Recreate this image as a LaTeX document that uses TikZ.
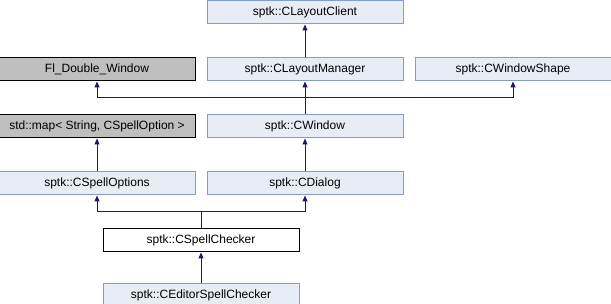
\documentclass[tikz,border=0pt]{standalone}
\usepackage{fontspec}
\setmainfont{Liberation Sans}
\usepackage{tikz}
\usetikzlibrary{positioning,arrows.meta,calc}
\usepackage{xcolor}
\definecolor{clsc}{RGB}{232,236,245}
\definecolor{clsb}{RGB}{132,156,204}
\definecolor{extc}{RGB}{191,191,191}
\definecolor{edgec}{RGB}{25,25,112}
\tikzset{
  box/.style={draw, line width=1pt, minimum width=196pt, minimum height=23pt, inner sep=0pt, font=\fontsize{12}{14}\selectfont},
  cls/.style={box, draw=clsb, fill=clsc},
  ext/.style={box, draw=black, fill=extc},
  cur/.style={box, draw=black, fill=white},
  inh/.style={-{Triangle[length=6pt,width=5pt]}, line width=1pt, edgec}
}

\begin{document}
\begin{tikzpicture}[x=1pt, y=1pt, node distance=33pt and 11pt]
  \useasboundingbox (0,0) rectangle (611,-304);

  % ---- layout classes ----
  \node[cls] (client) at (305,-12.5) {sptk::CLayoutClient};
  \node[cls, below=of client] (manager) {sptk::CLayoutManager};
  \node[ext, left=of manager] (fldw) {Fl\_Double\_Window};
  \node[cls, right=of manager] (shape) {sptk::CWindowShape};

  % ---- windows ----
  \node[cls, below=of manager] (window) {sptk::CWindow};
  \node[ext, below=of fldw] (map) {std::map< String, CSpellOption >};
  \node[cls, below=of map] (options) {sptk::CSpellOptions};
  \node[cls, below=of window] (dialog) {sptk::CDialog};

  % ---- spell checkers ----
  \coordinate (mid) at ($(options.south)!.5!(dialog.south)$);
  \node[cur, below=33pt of mid, anchor=north] (checker) {sptk::CSpellChecker};
  \node[cls, below=31pt of checker] (editor) {sptk::CEditorSpellChecker};

  % junctions
  \coordinate (j1) at ($(window.north)!.5!(manager.south)$);
  \coordinate (j2) at ($(checker.north)!.5!(checker.north |- options.south)$);

  % inheritance
  \draw[inh] (manager) -- (client);
  \draw[inh] (window) -- (manager);
  \draw[inh] (j1) -| (fldw);
  \draw[inh] (j1) -| (shape);
  \draw[inh] (options) -- (map);
  \draw[inh] (dialog) -- (window);
  \draw[inh] (checker) |- (j2) -| (options);
  \draw[inh] (j2) -| (dialog);
  \draw[inh] (editor) -- (checker);
\end{tikzpicture}
\end{document}
